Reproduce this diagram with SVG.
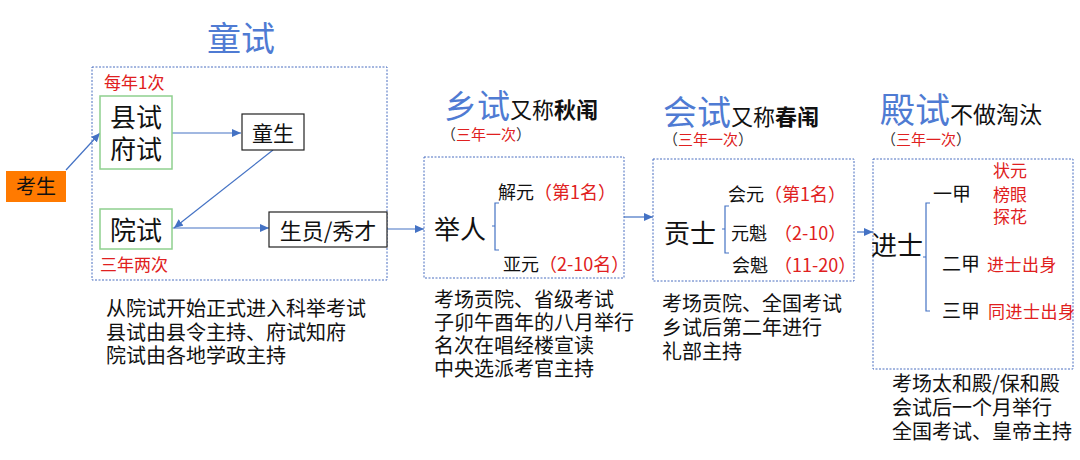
<svg xmlns="http://www.w3.org/2000/svg" width="1080" height="460" viewBox="0 0 1080 460">
<defs>
<style>
text{font-family:"Noto Sans CJK SC","Noto Sans",sans-serif;fill:#111}
.title{fill:#4F7BD3;font-size:34px}
.sub{font-size:22px}
.bold{font-weight:bold}
.red{fill:#E02020}
.par{fill:#333}
.frame{fill:none;stroke:#4A6FC0;stroke-width:1;stroke-dasharray:2 1.5}
.gbox{fill:#fff;stroke:#8FD08F;stroke-width:1.5}
.kbox{fill:#fff;stroke:#222;stroke-width:1.2}
.conn{fill:none;stroke:#4472C4;stroke-width:1.2}
.brk{fill:none;stroke:#4472C4;stroke-width:1.2}
.big{font-size:26px}
.mid{font-size:18px}
.note{font-size:20px}
</style>
<marker id="ah" markerUnits="userSpaceOnUse" markerWidth="9" markerHeight="8" refX="9" refY="4" orient="auto">
<path d="M0,0 L9,4 L0,8 z" fill="#4472C4"/>
</marker>
</defs>
<rect width="1080" height="460" fill="#fff"/>

<!-- Section titles -->
<g id="title-tongshi">
<text class="title" x="241" y="51" text-anchor="middle">童试</text>
</g>
<g id="title-xiangshi">
<text x="444" y="118"><tspan class="title" style="font-size:33px">乡试</tspan><tspan class="sub">又称</tspan><tspan class="sub bold">秋闱</tspan></text>
<text x="441" y="140" font-size="15"><tspan class="par">（</tspan><tspan class="red">三年一次</tspan><tspan class="par">）</tspan></text>
</g>
<g id="title-huishi">
<text x="663" y="125"><tspan class="title">会试</tspan><tspan class="sub">又称</tspan><tspan class="sub bold">春闱</tspan></text>
<text x="663" y="145" font-size="15"><tspan class="par">（</tspan><tspan class="red">三年一次</tspan><tspan class="par">）</tspan></text>
</g>
<g id="title-dianshi">
<text x="880" y="123"><tspan class="title" style="font-size:35px">殿试</tspan><tspan class="sub" style="font-size:23px">不做淘汰</tspan></text>
<text x="881" y="145" font-size="15"><tspan class="par">（</tspan><tspan class="red">三年一次</tspan><tspan class="par">）</tspan></text>
</g>

<!-- Frames -->
<g id="frame-tongshi"><rect class="frame" x="92" y="67" width="295" height="213"/></g>
<g id="frame-xiangshi"><rect class="frame" x="424" y="157" width="200" height="121"/></g>
<g id="frame-huishi"><rect class="frame" x="653" y="159" width="201" height="122"/></g>
<g id="frame-dianshi"><rect class="frame" x="873" y="159" width="200" height="210"/></g>

<!-- Connectors -->
<g id="connectors">
<line class="conn" x1="66" y1="170" x2="100" y2="133" marker-end="url(#ah)"/>
<line class="conn" x1="172" y1="133" x2="241" y2="133" marker-end="url(#ah)"/>
<line class="conn" x1="273" y1="150" x2="174" y2="228" marker-end="url(#ah)"/>
<line class="conn" x1="172" y1="228" x2="269" y2="228" marker-end="url(#ah)"/>
<line class="conn" x1="387" y1="229" x2="424" y2="229" marker-end="url(#ah)"/>
<line class="conn" x1="624" y1="217" x2="653" y2="217" marker-end="url(#ah)"/>
<line class="conn" x1="857" y1="232" x2="873" y2="232" marker-end="url(#ah)"/>
</g>

<!-- Nodes -->
<g id="kaosheng">
<rect x="6" y="171" width="60" height="31" fill="#FF7A00"/>
<text x="36" y="194" font-size="20" text-anchor="middle">考生</text>
</g>
<g id="xianshi-fushi">
<text class="red" x="104" y="89" font-size="17">每年1次</text>
<rect class="gbox" x="100" y="96" width="72" height="73"/>
<text class="big" x="136" y="127" text-anchor="middle">县试</text>
<text class="big" x="136" y="159" text-anchor="middle">府试</text>
</g>
<g id="tongsheng">
<rect class="kbox" x="242" y="114" width="62" height="36"/>
<text x="273" y="141" font-size="21" text-anchor="middle">童生</text>
</g>
<g id="yuanshi">
<rect class="gbox" x="100" y="209" width="72" height="40"/>
<text class="big" x="136" y="240" text-anchor="middle">院试</text>
<text class="red" x="100" y="271" font-size="17">三年两次</text>
</g>
<g id="shengyuan">
<rect class="kbox" x="269" y="212" width="118" height="35"/>
<text x="328" y="239" font-size="22" text-anchor="middle">生员/秀才</text>
</g>
<g id="notes-tongshi">
<text class="note" x="106" y="316">从院试开始正式进入科举考试</text>
<text class="note" x="106" y="340">县试由县令主持、府试知府</text>
<text class="note" x="106" y="363">院试由各地学政主持</text>
</g>

<g id="juren">
<text class="big" x="434" y="239">举人</text>
<path class="brk" d="M499,203 H495 V250 H499 M495,226 H492"/>
<text class="mid" x="498" y="199">解元<tspan class="red">（第1名）</tspan></text>
<text class="mid" x="503" y="271">亚元<tspan class="red">（2-10名）</tspan></text>
</g>
<g id="notes-xiangshi">
<text class="note" x="434" y="307">考场贡院、省级考试</text>
<text class="note" x="434" y="330">子卯午酉年的八月举行</text>
<text class="note" x="434" y="353">名次在唱经楼宣读</text>
<text class="note" x="434" y="376">中央选派考官主持</text>
</g>

<g id="gongshi">
<text class="big" x="664" y="243">贡士</text>
<path class="brk" d="M729,206 H725 V253 H729 M725,229 H722"/>
<text class="mid" x="728" y="201">会元<tspan class="red">（第1名）</tspan></text>
<text class="mid" x="731" y="240">元魁<tspan class="red" x="774">（2-10）</tspan></text>
<text class="mid" x="732" y="272">会魁<tspan class="red" x="774">（11-20）</tspan></text>
</g>
<g id="notes-huishi">
<text class="note" x="662" y="311">考场贡院、全国考试</text>
<text class="note" x="662" y="335">乡试后第二年进行</text>
<text class="note" x="662" y="359">礼部主持</text>
</g>

<g id="jinshi">
<text class="big" x="871" y="255">进士</text>
<path class="brk" d="M930,203 H926 V311 H930 M926,257 H923"/>
<text x="933" y="201" font-size="19">一甲</text>
<text class="red" x="993" y="177" font-size="17">状元</text>
<text class="red" x="993" y="201" font-size="17">榜眼</text>
<text class="red" x="993" y="223" font-size="17">探花</text>
<text x="942" y="271" font-size="19">二甲</text>
<text class="red" x="987" y="271" font-size="17" letter-spacing="0.5">进士出身</text>
<text x="942" y="318" font-size="19">三甲</text>
<text class="red" x="988" y="318" font-size="17" letter-spacing="0.5">同进士出身</text>
</g>
<g id="notes-dianshi">
<text class="note" x="892" y="391">考场太和殿/保和殿</text>
<text class="note" x="892" y="415">会试后一个月举行</text>
<text class="note" x="892" y="439">全国考试、皇帝主持</text>
</g>
</svg>
